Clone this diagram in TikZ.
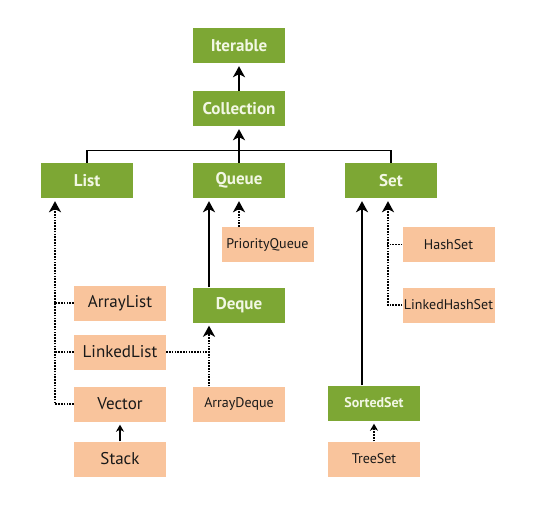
\documentclass[tikz,border=0pt]{standalone}
\usepackage{fontspec}
\setmainfont{PT Sans}
\usetikzlibrary{arrows.meta}
\definecolor{leaf}{HTML}{7DA734}
\definecolor{peach}{HTML}{F9C49C}
\definecolor{cream}{HTML}{F2F7E4}
\newcommand{\bg}{\fontsize{17}{20}\selectfont}
\newcommand{\sm}{\fontsize{14}{16}\selectfont}

\begin{document}
\begin{tikzpicture}[
  x=1pt, y=-1pt,
  >={Stealth[length=11pt, width=12pt, inset=3pt]},
  box/.style={inner sep=0pt, minimum width=92pt, minimum height=35pt, align=center},
  iface/.style={box, fill=leaf, text=cream, font=\bg\bfseries},
  cls/.style={box, fill=peach, text=black!90, font=\bg},
  scls/.style={cls, font=\sm},
  siface/.style={iface, font=\sm\bfseries},
  ext/.style={->, line width=1.6pt, shorten >=3pt},
  impl/.style={->, line width=1.6pt, dash pattern=on 1.6pt off 1.2pt, shorten >=3pt},
  tie/.style={line width=1.6pt, dash pattern=on 1.6pt off 1.2pt},
  small/.style={>={Stealth[length=7pt, width=8pt, inset=2pt]}},
]
  \useasboundingbox[fill=white] (0,0) rectangle (535,511);

  \node[iface] (iterable)   at (239,45.5)  {Iterable};
  \node[iface] (collection) at (239,108.5) {Collection};

  \node[iface] (list)  at (87,180.5)  {List};
  \node[iface] (queue) at (239,180.5) {Queue};
  \node[iface] (set)   at (391,180.5) {Set};

  \node[scls] (prioq)   at (267.5,244.5) {PriorityQueue};
  \node[scls] (hashset) at (448.5,244.5) {HashSet};

  \node[cls]  (arraylist)  at (120,303)   {ArrayList};
  \node[iface] (deque)     at (239,305)   {Deque};
  \node[scls] (linkedhash) at (448.5,305) {LinkedHashSet};
  \node[cls]  (linkedlist) at (120,352)   {LinkedList};

  \node[cls]    (vector)     at (120,404) {Vector};
  \node[scls]   (arraydeque) at (239,404) {ArrayDeque};
  \node[siface] (sortedset)  at (374,403) {SortedSet};
  \node[cls]    (stack)      at (120,459) {Stack};
  \node[scls]   (treeset)    at (374,459) {TreeSet};

  \coordinate (dq) at ([xshift=-30pt]deque.south);

  \draw[ext] (collection) -- (iterable);
  \draw[line width=1.6pt] (list.north) -- ++(0,-12.5) -| (set.north);
  \draw[ext] (queue.north) -- (collection.south);

  % list branch
  \draw[impl] (vector.west) -| ([xshift=-32pt]list.south);
  \draw[tie] (arraylist.west) -- ++(-20,0);
  \draw[tie] (linkedlist.west) -- ++(-20,0);
  \draw[ext, small] (stack) -- (vector);

  % queue branch
  \draw[ext] ([xshift=-30pt]deque.north) -- ([xshift=-30pt]queue.south);
  \draw[impl] (prioq.north -| queue.south) -- (queue.south);
  \draw[impl] (dq |- arraydeque.north) -- (dq);
  \draw[tie] (linkedlist.east) -- (linkedlist.east -| dq);

  % set branch
  \draw[ext] ([xshift=-12pt]sortedset.north) -- ([xshift=-12pt]sortedset.north |- set.south);
  \draw[impl] (linkedhash.west) -| ([xshift=-3pt]set.south);
  \draw[tie] (hashset.west) -- ++(-16,0);
  \draw[impl, small] (treeset) -- (sortedset);
\end{tikzpicture}
\end{document}
